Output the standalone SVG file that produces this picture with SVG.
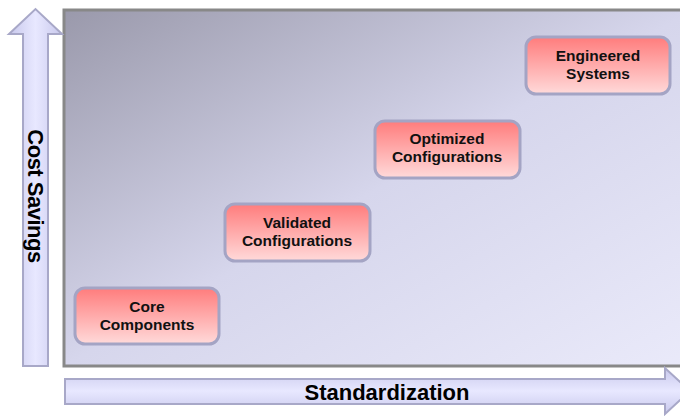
<svg xmlns="http://www.w3.org/2000/svg" width="680" height="416" viewBox="0 0 680 416">
<defs>
<linearGradient id="bg" x1="0" y1="0" x2="1" y2="1">
<stop offset="0" stop-color="#9a99ab"/>
<stop offset="0.5" stop-color="#d6d6ec"/>
<stop offset="1" stop-color="#eaeafa"/>
</linearGradient>
<linearGradient id="box" x1="0" y1="0" x2="0" y2="1">
<stop offset="0" stop-color="#ff7c7c"/>
<stop offset="1" stop-color="#ffdada"/>
</linearGradient>
<linearGradient id="arrV" x1="0" y1="0" x2="1" y2="0">
<stop offset="0" stop-color="#c8c8ec"/>
<stop offset="0.5" stop-color="#e8e8ff"/>
<stop offset="1" stop-color="#c8c8ec"/>
</linearGradient>
<linearGradient id="arrH" x1="0" y1="0" x2="0" y2="1">
<stop offset="0" stop-color="#c8c8ec"/>
<stop offset="0.5" stop-color="#e8e8ff"/>
<stop offset="1" stop-color="#c8c8ec"/>
</linearGradient>
</defs>
<style>
.node rect{fill:url(#box);stroke:#a4a4c4;stroke-width:3}
.node text{font-family:"Liberation Sans",Arial,sans-serif;font-weight:bold;font-size:15.5px;fill:#111;text-anchor:middle}
.axis{font-family:"Liberation Sans",Arial,sans-serif;font-weight:bold;font-size:22px;fill:#000}
.arrow{stroke:#a8a8c8;stroke-width:2}
</style>
<rect width="680" height="416" fill="#fff"/>
<g id="plot">
<rect x="64" y="10" width="630" height="356" fill="url(#bg)" stroke="#888" stroke-width="3"/>
</g>
<g id="axes">
<path class="arrow" fill="url(#arrV)" d="M23,366 L23,34 L9,34 L35.5,9 L62,34 L48,34 L48,366 Z"/>
<text class="axis" transform="translate(28,196) rotate(90)" text-anchor="middle" letter-spacing="-0.5">Cost Savings</text>
<path class="arrow" fill="url(#arrH)" d="M65,379 L665,379 L665,368 L690,391 L665,414 L665,404 L65,404 Z"/>
<text class="axis" x="387" y="400" text-anchor="middle">Standardization</text>
</g>
<g id="n1" class="node">
<rect x="75" y="288" width="144" height="56" rx="10"/>
<text x="147" y="312">Core</text>
<text x="147" y="330">Components</text>
</g>
<g id="n2" class="node">
<rect x="225" y="204" width="145" height="57" rx="10"/>
<text x="297" y="228">Validated</text>
<text x="297" y="246">Configurations</text>
</g>
<g id="n3" class="node">
<rect x="375" y="121" width="145" height="57" rx="10"/>
<text x="447" y="144">Optimized</text>
<text x="447" y="162">Configurations</text>
</g>
<g id="n4" class="node">
<rect x="526" y="37" width="144" height="57" rx="10"/>
<text x="598" y="61">Engineered</text>
<text x="598" y="79">Systems</text>
</g>
</svg>
